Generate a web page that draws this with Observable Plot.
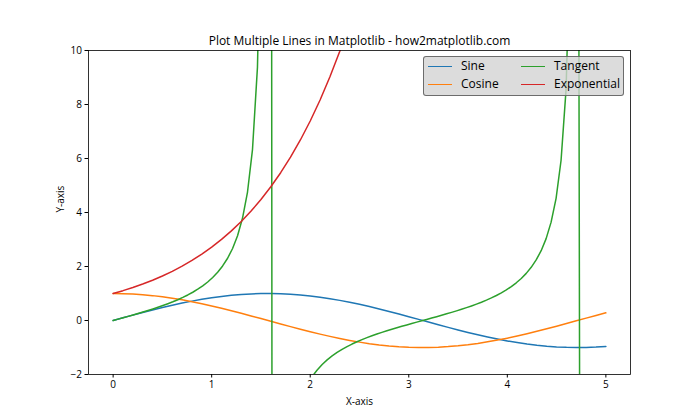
<!DOCTYPE html>
<html><head><meta charset="utf-8">
<script src="https://cdn.jsdelivr.net/npm/d3@7"></script>
<script src="https://cdn.jsdelivr.net/npm/@observablehq/plot@0.6"></script>
<style>
body{margin:0;background:#fff}
#wrap{position:relative;width:700px;height:420px;font-family:"Open Sans",sans-serif;color:#000}
#legend{position:absolute;left:423px;top:56px;width:201px;height:40px;background:rgba(211,211,211,0.8);border:1px solid rgba(80,80,80,0.8);border-radius:3px;box-sizing:border-box}
.item{position:absolute;font-size:12px;line-height:14px;white-space:nowrap}
.sw{position:absolute;height:0;border-top:1.5px solid}
</style>
</head><body><div id="wrap"></div>
<script>
// ---- data ----
const title = "Plot Multiple Lines in Matplotlib - how2matplotlib.com";
const xLabel = "X-axis";
const yLabel = "Y-axis";
const seriesNames = ["Sine", "Cosine", "Tangent", "Exponential"];
const seriesColors = ["#1f77b4", "#ff7f0e", "#2ca02c", "#d62728"];
const xTicks = [0, 1, 2, 3, 4, 5];
const yTicks = [-2, 0, 2, 4, 6, 8, 10];

const xs = [0,0.1,0.2,0.3,0.4,0.5,0.6,0.7,0.8,0.9,1,1.1,1.2,1.3,1.4,1.5,1.6,1.7,1.8,1.9,2,2.1,2.2,2.3,2.4,2.5,2.6,2.7,2.8,2.9,3,3.1,3.2,3.3,3.4,3.5,3.6,3.7,3.8,3.9,4,4.1,4.2,4.3,4.4,4.5,4.6,4.7,4.8,4.9,5];
const sineVals = [0,0.0998,0.1987,0.2955,0.3894,0.4794,0.5646,0.6442,0.7174,0.7833,0.8415,0.8912,0.9320,0.9636,0.9854,0.9975,0.9996,0.9917,0.9738,0.9463,0.9093,0.8632,0.8085,0.7457,0.6755,0.5985,0.5155,0.4274,0.3350,0.2392,0.1411,0.0416,-0.0584,-0.1577,-0.2555,-0.3508,-0.4425,-0.5298,-0.6119,-0.6878,-0.7568,-0.8183,-0.8716,-0.9162,-0.9516,-0.9775,-0.9937,-0.9999,-0.9962,-0.9825,-0.9589];
const cosineVals = [1,0.9950,0.9801,0.9553,0.9211,0.8776,0.8253,0.7648,0.6967,0.6216,0.5403,0.4536,0.3624,0.2675,0.1700,0.0707,-0.0292,-0.1288,-0.2272,-0.3233,-0.4161,-0.5048,-0.5885,-0.6663,-0.7374,-0.8011,-0.8569,-0.9041,-0.9422,-0.9710,-0.9900,-0.9991,-0.9983,-0.9875,-0.9668,-0.9365,-0.8968,-0.8481,-0.7910,-0.7259,-0.6536,-0.5748,-0.4903,-0.4008,-0.3073,-0.2108,-0.1122,-0.0124,0.0875,0.1865,0.2837];
const expX = [0,0.1,0.2,0.3,0.4,0.5,0.6,0.7,0.8,0.9,1,1.1,1.2,1.3,1.4,1.5,1.6,1.7,1.8,1.9,2,2.1,2.2,2.3,2.4];
const expVals = [1,1.1052,1.2214,1.3499,1.4918,1.6487,1.8221,2.0138,2.2255,2.4596,2.7183,3.0042,3.3201,3.6693,4.0552,4.4817,4.9530,5.4739,6.0496,6.6859,7.3891,8.1662,9.0250,9.9742,11.0232];
const tanX = [0,0.0505,0.1010,0.1515,0.2020,0.2525,0.3030,0.3535,0.4040,0.4545,0.5051,0.5556,0.6061,0.6566,0.7071,0.7576,0.8081,0.8586,0.9091,0.9596,1.0101,1.0606,1.1111,1.1616,1.2121,1.2626,1.3131,1.3636,1.4141,1.4646,1.5152,1.5657,1.6162,1.6667,1.7172,1.7677,1.8182,1.8687,1.9192,1.9697,2.0202,2.0707,2.1212,2.1717,2.2222,2.2727,2.3232,2.3737,2.4242,2.4747,2.5253,2.5758,2.6263,2.6768,2.7273,2.7778,2.8283,2.8788,2.9293,2.9798,3.0303,3.0808,3.1313,3.1818,3.2323,3.2828,3.3333,3.3838,3.4343,3.4848,3.5354,3.5859,3.6364,3.6869,3.7374,3.7879,3.8384,3.8889,3.9394,3.9899,4.0404,4.0909,4.1414,4.1919,4.2424,4.2929,4.3434,4.3939,4.4444,4.4949,4.5455,4.5960,4.6465,4.6970,4.7475,4.7980,4.8485,4.8990,4.9495,5.0000];
const tanVals = [0,0.0506,0.1014,0.1527,0.2048,0.2580,0.3127,0.3690,0.4276,0.4887,0.5529,0.6208,0.6931,0.7706,0.8545,0.9459,1.0464,1.1582,1.2840,1.4271,1.5926,1.7870,2.0200,2.3060,2.6674,3.1416,3.7947,4.7579,6.3312,9.3852,17.953,194.6,-22.03,-10.399,-6.783,-5.013,-3.960,-3.257,-2.753,-2.373,-2.073,-1.831,-1.630,-1.459,-1.312,-1.183,-1.068,-0.9655,-0.8724,-0.7871,-0.7084,-0.6351,-0.5664,-0.5015,-0.4398,-0.3808,-0.3240,-0.2690,-0.2156,-0.1632,-0.1118,-0.0609,-0.0103,0.0402,0.0910,0.1422,0.1941,0.2471,0.3014,0.3574,0.4155,0.4760,0.5395,0.6066,0.6780,0.7544,0.8368,0.9266,1.0251,1.1344,1.2571,1.3964,1.5568,1.7446,1.9688,2.2425,2.5862,3.0333,3.6424,4.5263,5.9347,8.5501,15.147,64.85,-28.49,-11.655,-7.302,-5.297,-4.138,-3.381];

// ---- build tables ----
const series = [
  {xv: xs, yv: sineVals},
  {xv: xs, yv: cosineVals},
  {xv: tanX, yv: tanVals},
  {xv: expX, yv: expVals}
].map((s, k) => s.xv.map((x, i) => ({x, y: s.yv[i], name: seriesNames[k]})));

const fmt = d => d < 0 ? "\u2212" + (-d) : String(d);

const chart = Plot.plot({
  width: 700,
  height: 420,
  marginLeft: 88,
  marginRight: 70,
  marginTop: 50,
  marginBottom: 46,
  style: {fontFamily: '"Open Sans", sans-serif', fontSize: "10px", color: "#000", background: "#fff"},
  x: {domain: [-0.25, 5.25]},
  y: {domain: [-2, 10]},
  marks: [
    ...series.map((data, k) => Plot.line(data, {x: "x", y: "y", stroke: seriesColors[k], strokeWidth: 1.5, clip: true})),
    Plot.axisX({ticks: xTicks, tickFormat: fmt, tickSize: 3.5, tickPadding: 3, label: null, fontSize: 10}),
    Plot.axisY({ticks: yTicks, tickFormat: fmt, tickSize: 3.5, tickPadding: 3, label: null, fontSize: 10}),
    Plot.frame({stroke: "#000", strokeWidth: 0.8}),
    Plot.text([title], {frameAnchor: "top", dy: -14, fontSize: 12}),
    Plot.text([xLabel], {frameAnchor: "bottom", dy: 30, fontSize: 10}),
    Plot.text([yLabel], {frameAnchor: "left", dx: -28, rotate: -90, fontSize: 10})
  ]
});

const wrap = document.getElementById("wrap");
wrap.appendChild(chart);

// ---- legend (matplotlib-style, upper right, 2 columns) ----
const legend = document.createElement("div");
legend.id = "legend";
const cols = [[0, 1], [2, 3]];
const colX = [4, 97];
cols.forEach((col, c) => col.forEach((k, r) => {
  const top = 9 + r * 18;
  const sw = document.createElement("div");
  sw.className = "sw";
  sw.style.left = colX[c] + "px";
  sw.style.width = "24px";
  sw.style.top = top + "px";
  sw.style.borderColor = seriesColors[k];
  legend.appendChild(sw);
  const t = document.createElement("div");
  t.className = "item";
  t.style.left = (colX[c] + 33) + "px";
  t.style.top = (top - 7) + "px";
  t.textContent = seriesNames[k];
  legend.appendChild(t);
}));
wrap.appendChild(legend);
</script>
</body></html>
